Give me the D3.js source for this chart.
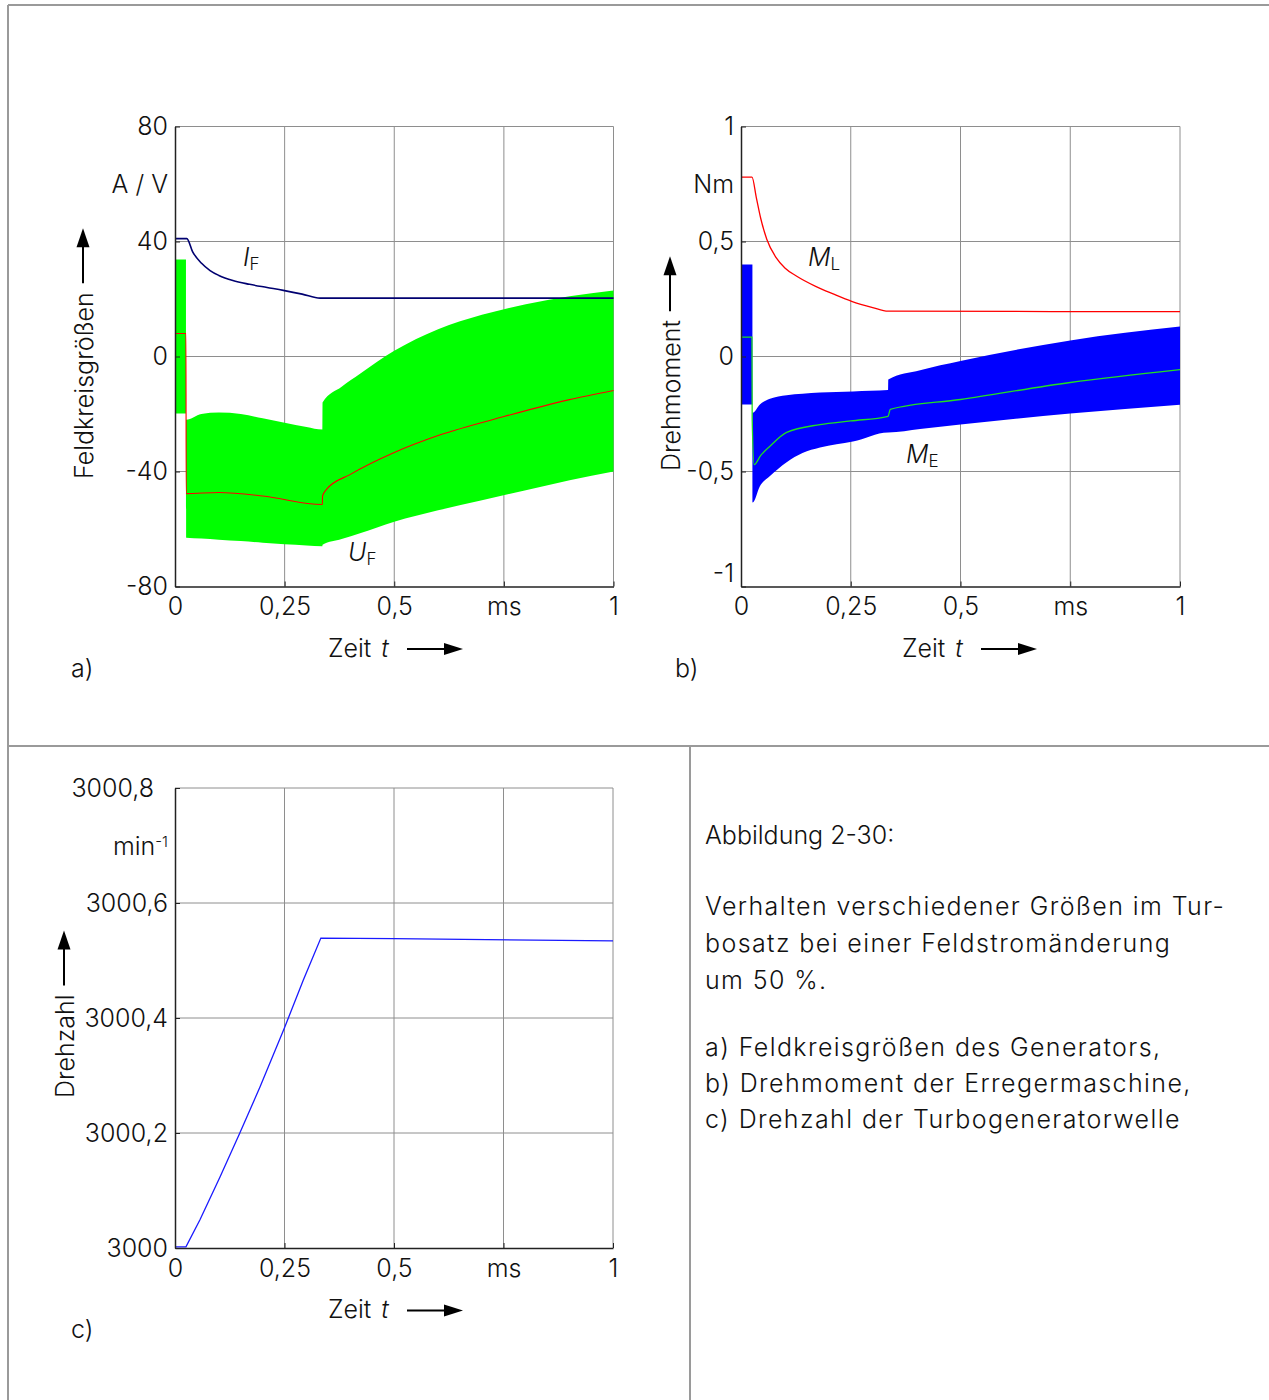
<!DOCTYPE html>
<html>
<head>
<meta charset="utf-8">
<script src="https://cdn.jsdelivr.net/npm/d3@7"></script>
<style>
  body { margin: 0; background: #fff; }
  svg text { font-family: Inter, "Open Sans", sans-serif; font-weight: 300; fill: #111; }
</style>
</head>
<body>
<svg id="chart" width="1269" height="1400"></svg>
<script>
// ---- shared axis data ----
const timeTicks = [0, 0.25, 0.5, 0.75, 1];
const timeTickLabels = ["0", "0,25", "0,5", "ms", "1"];

// ---- panel a: Feldkreisgrößen ----
const aTicks = [-80, -40, 0, 40, 80];
const aTickLabels = ["-80", "-40", "0", "40", "80"];
const ifT = [0, 0.027, 0.04, 0.06, 0.08, 0.1, 0.132, 0.17, 0.21, 0.247, 0.29, 0.331, 1];
const ifV = [41, 41, 36.5, 32.5, 29.9, 28.2, 26.4, 25.1, 24, 23, 21.7, 20.3, 20.3];
const ufT = [0, 0.025, 0.0255, 0.1, 0.2, 0.336, 0.3365, 0.345, 0.4, 0.5, 0.6, 0.75, 0.9, 1];
const ufV = [8, 8, -47.7, -47.3, -48.5, -51.5, -48.5, -46.3, -41, -33.4, -27.5, -20.9, -15, -11.8];
const ufBandT = [0, 0.025, 0.0255, 0.06, 0.1, 0.15, 0.2, 0.25, 0.3, 0.336, 0.3365, 0.38, 0.422, 0.5, 0.6, 0.7, 0.8, 0.9, 1];
const ufBandHi = [33.7, 33.7, -22, -20, -19.5, -20, -21.5, -23, -24.5, -25.4, -16, -10.5, -6, 2, 9.5, 14.5, 18.2, 21, 23];
const ufBandLo = [-19.8, -19.8, -63, -63.3, -63.7, -64.2, -64.8, -65.3, -65.7, -66, -65.5, -63.5, -61.5, -57.5, -53.5, -50, -46.5, -43, -40];

// ---- panel b: Drehmoment ----
const bTicks = [-1, -0.5, 0, 0.5, 1];
const bTickLabels = ["-1", "-0,5", "0", "0,5", "1"];
const mlT = [0, 0.025, 0.035, 0.045, 0.0587, 0.08, 0.1, 0.127, 0.17, 0.21, 0.252, 0.3, 0.335, 1];
const mlV = [0.78, 0.78, 0.69, 0.6, 0.51, 0.43, 0.385, 0.349, 0.305, 0.272, 0.24, 0.213, 0.197, 0.195];
const meT = [0, 0.025, 0.0255, 0.03, 0.045, 0.066, 0.104, 0.18, 0.25, 0.335, 0.34, 0.5, 0.75, 1];
const meV = [0.084, 0.084, -0.274, -0.47, -0.43, -0.39, -0.33, -0.296, -0.28, -0.26, -0.23, -0.187, -0.113, -0.057];
const meBandT = [0, 0.026, 0.0265, 0.043, 0.066, 0.104, 0.14, 0.18, 0.255, 0.335, 0.3355, 0.408, 0.5, 0.75, 1];
const meBandHi = [0.4, 0.4, -0.245, -0.209, -0.184, -0.168, -0.162, -0.157, -0.152, -0.146, -0.1, -0.06, -0.02, 0.07, 0.13];
const meBandLo = [-0.209, -0.209, -0.635, -0.564, -0.52, -0.46, -0.42, -0.396, -0.37, -0.33, -0.33, -0.315, -0.296, -0.248, -0.21];

// ---- panel c: Drehzahl ----
const cTicks = [3000, 3000.2, 3000.4, 3000.6, 3000.8];
const cTickLabels = ["3000", "3000,2", "3000,4", "3000,6", "3000,8"];
const nT = [0, 0.025, 0.057, 0.103, 0.148, 0.194, 0.25, 0.293, 0.333, 0.5, 1];
const nV = [3000.002, 3000.002, 3000.049, 3000.124, 3000.2, 3000.28, 3000.383, 3000.466, 3000.539, 3000.538, 3000.534];

const caption = [
  "Verhalten verschiedener Größen im Tur-",
  "bosatz bei einer Feldstromänderung",
  "um 50 %."
];
const captionList = [
  "a) Feldkreisgrößen des Generators,",
  "b) Drehmoment der Erregermaschine,",
  "c) Drehzahl der Turbogeneratorwelle"
];

const zip = (a, b) => a.map((t, i) => [t, b[i]]);
const zip3 = (a, b, c) => a.map((t, i) => [t, b[i], c[i]]);

const svg = d3.select("#chart");
const FS = 25;

// frame lines
const frame = svg.append("g").attr("stroke", "#9a9a9a").attr("stroke-width", 2);
frame.append("line").attr("x1", 8).attr("y1", 5).attr("x2", 1269).attr("y2", 5);
frame.append("line").attr("x1", 8).attr("y1", 5).attr("x2", 8).attr("y2", 1400);
frame.append("line").attr("x1", 8).attr("y1", 746).attr("x2", 1269).attr("y2", 746);
frame.append("line").attr("x1", 690).attr("y1", 746).attr("x2", 690).attr("y2", 1400);

function arrowUp(g, cx, yBase, yTip) {
  g.append("line").attr("x1", cx).attr("x2", cx).attr("y1", yBase).attr("y2", yTip + 18)
    .attr("stroke", "#000").attr("stroke-width", 2);
  g.append("path").attr("d", `M${cx},${yTip} L${cx - 6.5},${yTip + 19} L${cx + 6.5},${yTip + 19} Z`).attr("fill", "#000");
}

function arrowRight(g, xBase, xTip, cy) {
  g.append("line").attr("x1", xBase).attr("x2", xTip - 18).attr("y1", cy).attr("y2", cy)
    .attr("stroke", "#000").attr("stroke-width", 2);
  g.append("path").attr("d", `M${xTip},${cy} L${xTip - 19},${cy - 6} L${xTip - 19},${cy + 6} Z`).attr("fill", "#000");
}

function drawPanel(cfg) {
  const x = d3.scaleLinear().domain([0, 1]).range([cfg.left, cfg.right]);
  const y = d3.scaleLinear().domain(d3.extent(cfg.yTicks)).range([cfg.bottom, cfg.top]);
  const g = svg.append("g");

  // grid
  g.append("g").selectAll("line").data(timeTicks.slice(1)).join("line")
    .attr("x1", d => x(d)).attr("x2", d => x(d))
    .attr("y1", cfg.top).attr("y2", cfg.bottom)
    .attr("stroke", "#8e8e8e").attr("stroke-width", 1);
  g.append("g").selectAll("line").data(cfg.yTicks.slice(1)).join("line")
    .attr("x1", cfg.left).attr("x2", cfg.right)
    .attr("y1", d => y(d)).attr("y2", d => y(d))
    .attr("stroke", "#8e8e8e").attr("stroke-width", 1);

  // bands (high-frequency ripple drawn as filled envelope)
  (cfg.bands || []).forEach(b => {
    g.append("path")
      .datum(zip3(b.t, b.hi, b.lo))
      .attr("d", d3.area().curve(d3.curveMonotoneX)
        .x(d => x(d[0])).y0(d => y(d[2])).y1(d => y(d[1])))
      .attr("fill", b.color);
  });

  // lines
  cfg.lines.forEach(l => {
    g.append("path")
      .datum(zip(l.t, l.v))
      .attr("d", d3.line().curve(l.curve || d3.curveMonotoneX).x(d => x(d[0])).y(d => y(d[1])))
      .attr("fill", "none").attr("stroke", l.color).attr("stroke-width", l.width || 1.3);
  });

  // axes
  const yAxis = g.append("g").attr("transform", `translate(${cfg.left},0)`)
    .call(d3.axisLeft(y).tickValues(cfg.yTicks).tickFormat((d, i) => cfg.yTickLabels[i])
      .tickSizeInner(-5).tickSizeOuter(0).tickPadding(7));
  const xAxis = g.append("g").attr("transform", `translate(0,${cfg.bottom})`)
    .call(d3.axisBottom(x).tickValues(timeTicks).tickFormat((d, i) => timeTickLabels[i])
      .tickSizeInner(-5).tickSizeOuter(0).tickPadding(11));
  [yAxis, xAxis].forEach(a => {
    a.attr("font-size", null).attr("font-family", null);
    a.select(".domain").attr("stroke", "#222").attr("stroke-width", 1.5);
    a.selectAll(".tick line").attr("stroke", "#222");
    a.selectAll(".tick text").style("font-size", FS + "px").attr("fill", "#111");
  });
  if (cfg.topLabelShift) {
    yAxis.selectAll(".tick text").filter((d, i) => i === cfg.yTicks.length - 1)
      .attr("dx", -cfg.topLabelShift);
  }
  if (cfg.bottomLabelLift) {
    yAxis.selectAll(".tick text").filter((d, i) => i === 0)
      .attr("y", -cfg.bottomLabelLift);
  }

  // unit
  const unit = g.append("text").attr("x", cfg.left - 7).attr("y", cfg.unitY).attr("dy", "0.35em")
    .attr("text-anchor", "end").style("font-size", FS + "px");
  unit.append("tspan").text(cfg.unit);
  if (cfg.unitSup) {
    unit.append("tspan").attr("dy", "-0.55em").style("font-size", "15px").text(cfg.unitSup);
  }

  // y title with arrow
  const yt = g.append("text")
    .attr("transform", `translate(${cfg.yTitleX},${cfg.yTitleBottom}) rotate(-90)`)
    .attr("dy", "0.35em").style("font-size", FS + "px").text(cfg.yTitle);
  const len = yt.node().getComputedTextLength();
  const aBase = cfg.yTitleBottom - len - 9;
  arrowUp(g, cfg.yTitleX - 1, aBase, aBase - 55);

  // x title with arrow
  const xt = g.append("text").attr("x", cfg.xTitleX).attr("y", cfg.bottom + 70)
    .style("font-size", FS + "px");
  xt.append("tspan").text("Zeit ");
  xt.append("tspan").attr("dx", 3).style("font-style", "italic").text("t");
  arrowRight(g, cfg.xTitleX + 79, cfg.xTitleX + 135, cfg.bottom + 62.5);

  // panel letter
  g.append("text").attr("x", cfg.letterX).attr("y", cfg.bottom + 90)
    .style("font-size", FS + "px").text(cfg.letter);

  // curve labels
  (cfg.labels || []).forEach(lb => {
    const t = g.append("text").attr("x", lb.x).attr("y", lb.y).style("font-size", FS + "px");
    t.append("tspan").style("font-style", "italic").text(lb.main);
    t.append("tspan").attr("dy", "0.22em").style("font-size", "17px").text(lb.sub);
  });
}

drawPanel({
  left: 175, right: 613.5, top: 126.5, bottom: 586.5,
  yTicks: aTicks, yTickLabels: aTickLabels,
  unit: "A / V", unitY: 184,
  yTitle: "Feldkreisgrößen", yTitleX: 84, yTitleBottom: 479,
  xTitleX: 328,
  letter: "a)", letterX: 71,
  bands: [{ t: ufBandT, hi: ufBandHi, lo: ufBandLo, color: "#00ff00" }],
  lines: [
    { t: ifT, v: ifV, color: "#000070", width: 1.6 },
    { t: ufT, v: ufV, color: "#ff0000", width: 1.1 }
  ],
  labels: [
    { main: "I", sub: "F", x: 243, y: 266 },
    { main: "U", sub: "F", x: 348, y: 561 }
  ]
});

drawPanel({
  left: 741, right: 1180, top: 126.5, bottom: 586.5,
  yTicks: bTicks, yTickLabels: bTickLabels, bottomLabelLift: 13,
  unit: "Nm", unitY: 184,
  yTitle: "Drehmoment", yTitleX: 671, yTitleBottom: 471,
  xTitleX: 902,
  letter: "b)", letterX: 675,
  bands: [{ t: meBandT, hi: meBandHi, lo: meBandLo, color: "#0000ff" }],
  lines: [
    { t: mlT, v: mlV, color: "#ff0000", width: 1.3 },
    { t: meT, v: meV, color: "#22dd22", width: 1.3 }
  ],
  labels: [
    { main: "M", sub: "L", x: 808, y: 266 },
    { main: "M", sub: "E", x: 906, y: 463 }
  ]
});

drawPanel({
  left: 175, right: 613, top: 788, bottom: 1248,
  yTicks: cTicks, yTickLabels: cTickLabels, topLabelShift: 14,
  unit: "min", unitSup: "-1", unitY: 846,
  yTitle: "Drehzahl", yTitleX: 65, yTitleBottom: 1098,
  xTitleX: 328,
  letter: "c)", letterX: 71,
  lines: [{ t: nT, v: nV, color: "#1a1aff", width: 1.3, curve: d3.curveLinear }]
});

// caption
const cap = svg.append("g").style("font-size", FS + "px");
cap.append("text").attr("x", 705).attr("y", 844).text("Abbildung 2-30:");
cap.selectAll(".c1").data(caption).join("text").attr("class", "c1")
  .attr("x", 705).attr("y", (d, i) => 915 + i * 37)
  .style("letter-spacing", "1.4px").text(d => d);
cap.selectAll(".c2").data(captionList).join("text").attr("class", "c2")
  .attr("x", 705).attr("y", (d, i) => 1056 + i * 36)
  .style("letter-spacing", "1.4px").text(d => d);
</script>
</body>
</html>
